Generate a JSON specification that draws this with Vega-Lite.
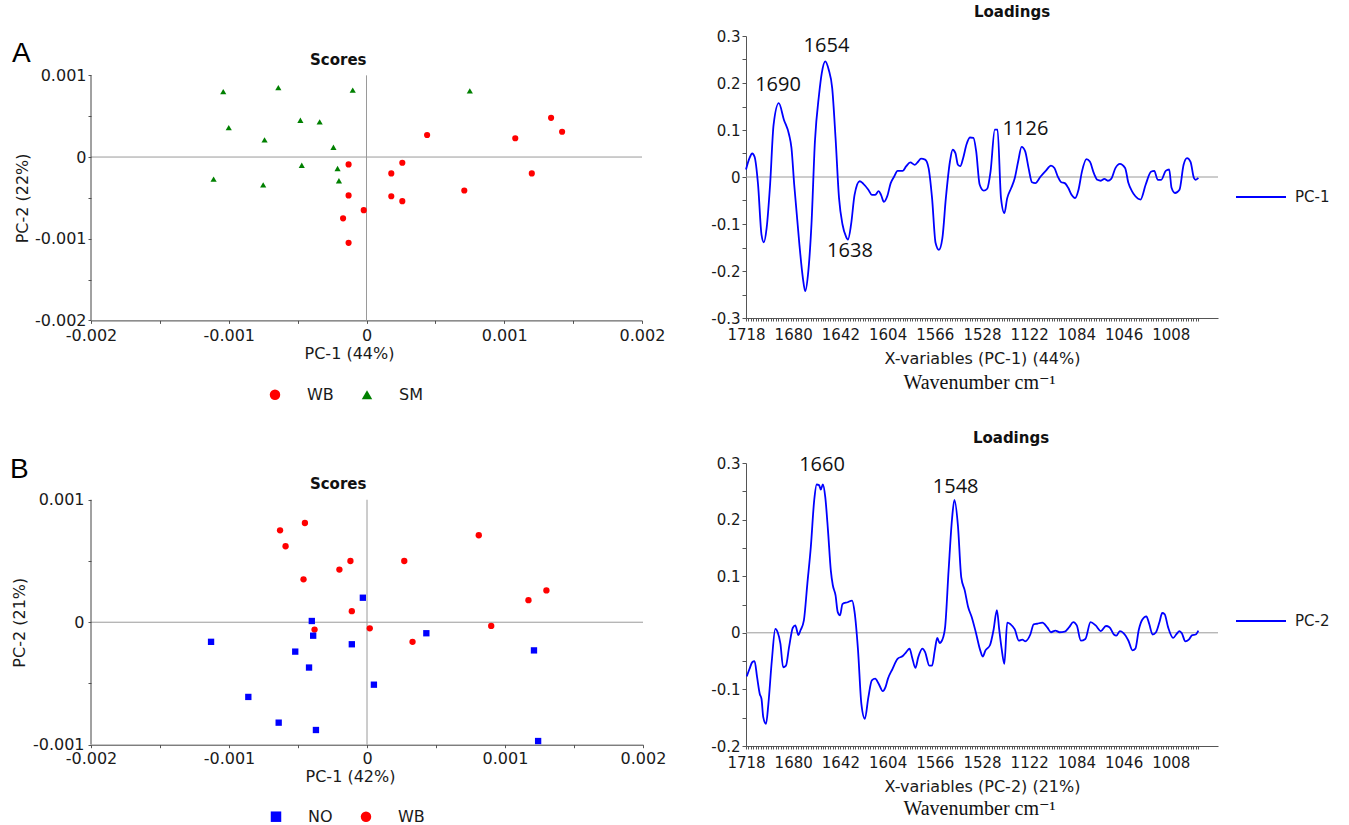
{
  "$schema": "https://vega.github.io/schema/vega-lite/v6.json",
  "background": "white",
  "padding": {"left": 9, "top": 5, "right": 0, "bottom": 0},
  "config": {
    "font": "DejaVu Sans",
    "view": {"stroke": null},
    "axis": {"labelFont": "DejaVu Sans", "titleFont": "DejaVu Sans", "titleFontWeight": "normal", "labelColor": "#1a1a1a", "titleColor": "#1a1a1a", "domainColor": "#555555", "tickColor": "#555555", "grid": false, "tickCount": 500},
    "legend": {"labelFont": "DejaVu Sans", "labelColor": "#1a1a1a"},
    "title": {"font": "DejaVu Sans", "fontWeight": "bold", "fontSize": 15, "color": "#111111", "anchor": "middle"}
  },
  "datasets": {
    "scoresA": [
      {"pc1": -0.00104, "pc2": 0.00080, "group": "SM"},
      {"pc1": -0.00064, "pc2": 0.00085, "group": "SM"},
      {"pc1": -0.00010, "pc2": 0.00082, "group": "SM"},
      {"pc1": 0.00075, "pc2": 0.00081, "group": "SM"},
      {"pc1": -0.00100, "pc2": 0.00036, "group": "SM"},
      {"pc1": -0.00048, "pc2": 0.00045, "group": "SM"},
      {"pc1": -0.00034, "pc2": 0.00043, "group": "SM"},
      {"pc1": -0.00074, "pc2": 0.00021, "group": "SM"},
      {"pc1": -0.00024, "pc2": 0.00012, "group": "SM"},
      {"pc1": -0.00047, "pc2": -0.00010, "group": "SM"},
      {"pc1": -0.00021, "pc2": -0.00014, "group": "SM"},
      {"pc1": -0.00111, "pc2": -0.00027, "group": "SM"},
      {"pc1": -0.00075, "pc2": -0.00034, "group": "SM"},
      {"pc1": -0.00020, "pc2": -0.00029, "group": "SM"},
      {"pc1": -0.00013, "pc2": -0.00009, "group": "WB"},
      {"pc1": 0.00026, "pc2": -0.00007, "group": "WB"},
      {"pc1": 0.00018, "pc2": -0.00020, "group": "WB"},
      {"pc1": 0.00044, "pc2": 0.00027, "group": "WB"},
      {"pc1": 0.00108, "pc2": 0.00023, "group": "WB"},
      {"pc1": 0.00134, "pc2": 0.00048, "group": "WB"},
      {"pc1": 0.00142, "pc2": 0.00031, "group": "WB"},
      {"pc1": 0.00120, "pc2": -0.00020, "group": "WB"},
      {"pc1": 0.00071, "pc2": -0.00041, "group": "WB"},
      {"pc1": -0.00013, "pc2": -0.00047, "group": "WB"},
      {"pc1": 0.00018, "pc2": -0.00048, "group": "WB"},
      {"pc1": 0.00026, "pc2": -0.00054, "group": "WB"},
      {"pc1": -0.00002, "pc2": -0.00065, "group": "WB"},
      {"pc1": -0.00017, "pc2": -0.00075, "group": "WB"},
      {"pc1": -0.00013, "pc2": -0.00105, "group": "WB"}
    ],
    "scoresB": [
      {"pc1": -0.00063, "pc2": 0.00075, "group": "WB"},
      {"pc1": -0.00045, "pc2": 0.00081, "group": "WB"},
      {"pc1": -0.00059, "pc2": 0.00062, "group": "WB"},
      {"pc1": 0.00081, "pc2": 0.00071, "group": "WB"},
      {"pc1": -0.00020, "pc2": 0.00043, "group": "WB"},
      {"pc1": -0.00012, "pc2": 0.00050, "group": "WB"},
      {"pc1": 0.00027, "pc2": 0.00050, "group": "WB"},
      {"pc1": -0.00046, "pc2": 0.00035, "group": "WB"},
      {"pc1": 0.00130, "pc2": 0.00026, "group": "WB"},
      {"pc1": 0.00117, "pc2": 0.00018, "group": "WB"},
      {"pc1": -0.00011, "pc2": 0.00009, "group": "WB"},
      {"pc1": -0.00038, "pc2": -0.00006, "group": "WB"},
      {"pc1": 0.00002, "pc2": -0.00005, "group": "WB"},
      {"pc1": 0.00090, "pc2": -0.00003, "group": "WB"},
      {"pc1": 0.00033, "pc2": -0.00016, "group": "WB"},
      {"pc1": -0.00003, "pc2": 0.00020, "group": "NO"},
      {"pc1": -0.00040, "pc2": 0.00001, "group": "NO"},
      {"pc1": -0.00039, "pc2": -0.00011, "group": "NO"},
      {"pc1": -0.00113, "pc2": -0.00016, "group": "NO"},
      {"pc1": -0.00011, "pc2": -0.00018, "group": "NO"},
      {"pc1": 0.00043, "pc2": -0.00009, "group": "NO"},
      {"pc1": -0.00052, "pc2": -0.00024, "group": "NO"},
      {"pc1": 0.00121, "pc2": -0.00023, "group": "NO"},
      {"pc1": -0.00042, "pc2": -0.00037, "group": "NO"},
      {"pc1": 0.00005, "pc2": -0.00051, "group": "NO"},
      {"pc1": -0.00086, "pc2": -0.00061, "group": "NO"},
      {"pc1": -0.00064, "pc2": -0.00082, "group": "NO"},
      {"pc1": -0.00037, "pc2": -0.00088, "group": "NO"},
      {"pc1": 0.00124, "pc2": -0.00097, "group": "NO"}
    ],
    "loadA": [
      {"pos": 0, "val": 0.016, "series": "PC-1"}, {"pos": 2.8, "val": 0.040, "series": "PC-1"}, {"pos": 5, "val": 0.050, "series": "PC-1"}, {"pos": 6.9, "val": 0.043, "series": "PC-1"}, {"pos": 9.7, "val": -0.016, "series": "PC-1"}, {"pos": 12.5, "val": -0.123, "series": "PC-1"}, {"pos": 14.4, "val": -0.139, "series": "PC-1"}, {"pos": 16.6, "val": -0.109, "series": "PC-1"}, {"pos": 19.4, "val": -0.016, "series": "PC-1"}, {"pos": 22.2, "val": 0.111, "series": "PC-1"}, {"pos": 26.4, "val": 0.157, "series": "PC-1"}, {"pos": 30.5, "val": 0.122, "series": "PC-1"}, {"pos": 34.7, "val": 0.090, "series": "PC-1"}, {"pos": 36.6, "val": 0.062, "series": "PC-1"}, {"pos": 38.8, "val": -0.016, "series": "PC-1"}, {"pos": 43, "val": -0.144, "series": "PC-1"}, {"pos": 45.8, "val": -0.215, "series": "PC-1"}, {"pos": 47.7, "val": -0.243, "series": "PC-1"}, {"pos": 49.9, "val": -0.208, "series": "PC-1"}, {"pos": 52.7, "val": -0.101, "series": "PC-1"}, {"pos": 55.5, "val": 0.076, "series": "PC-1"}, {"pos": 58.8, "val": 0.175, "series": "PC-1"}, {"pos": 61, "val": 0.221, "series": "PC-1"}, {"pos": 63.8, "val": 0.246, "series": "PC-1"}, {"pos": 66.6, "val": 0.228, "series": "PC-1"}, {"pos": 69.4, "val": 0.189, "series": "PC-1"}, {"pos": 72.1, "val": 0.083, "series": "PC-1"}, {"pos": 74.9, "val": -0.045, "series": "PC-1"}, {"pos": 77.7, "val": -0.101, "series": "PC-1"}, {"pos": 80.4, "val": -0.126, "series": "PC-1"}, {"pos": 82.1, "val": -0.133, "series": "PC-1"}, {"pos": 84.6, "val": -0.101, "series": "PC-1"}, {"pos": 87.4, "val": -0.038, "series": "PC-1"}, {"pos": 91.5, "val": -0.009, "series": "PC-1"}, {"pos": 94.3, "val": -0.014, "series": "PC-1"}, {"pos": 98.5, "val": -0.027, "series": "PC-1"}, {"pos": 101.3, "val": -0.038, "series": "PC-1"}, {"pos": 104, "val": -0.038, "series": "PC-1"}, {"pos": 106.8, "val": -0.030, "series": "PC-1"}, {"pos": 108.7, "val": -0.038, "series": "PC-1"}, {"pos": 111, "val": -0.053, "series": "PC-1"}, {"pos": 113.7, "val": -0.041, "series": "PC-1"}, {"pos": 116.5, "val": -0.013, "series": "PC-1"}, {"pos": 119.3, "val": 0.001, "series": "PC-1"}, {"pos": 122, "val": 0.013, "series": "PC-1"}, {"pos": 126.2, "val": 0.013, "series": "PC-1"}, {"pos": 129, "val": 0.023, "series": "PC-1"}, {"pos": 132.3, "val": 0.031, "series": "PC-1"}, {"pos": 135.9, "val": 0.026, "series": "PC-1"}, {"pos": 138.7, "val": 0.033, "series": "PC-1"}, {"pos": 140.9, "val": 0.039, "series": "PC-1"}, {"pos": 144.2, "val": 0.037, "series": "PC-1"}, {"pos": 147, "val": 0.019, "series": "PC-1"}, {"pos": 149.8, "val": -0.045, "series": "PC-1"}, {"pos": 152.6, "val": -0.140, "series": "PC-1"}, {"pos": 155.3, "val": -0.155, "series": "PC-1"}, {"pos": 158.1, "val": -0.130, "series": "PC-1"}, {"pos": 160.9, "val": -0.045, "series": "PC-1"}, {"pos": 164.2, "val": 0.033, "series": "PC-1"}, {"pos": 166.4, "val": 0.058, "series": "PC-1"}, {"pos": 168.6, "val": 0.051, "series": "PC-1"}, {"pos": 170.6, "val": 0.026, "series": "PC-1"}, {"pos": 172.5, "val": 0.023, "series": "PC-1"}, {"pos": 174.8, "val": 0.040, "series": "PC-1"}, {"pos": 177.5, "val": 0.069, "series": "PC-1"}, {"pos": 180.3, "val": 0.084, "series": "PC-1"}, {"pos": 183.1, "val": 0.083, "series": "PC-1"}, {"pos": 185.3, "val": 0.055, "series": "PC-1"}, {"pos": 188.1, "val": -0.016, "series": "PC-1"}, {"pos": 191.4, "val": -0.029, "series": "PC-1"}, {"pos": 194.2, "val": -0.025, "series": "PC-1"}, {"pos": 196.9, "val": 0.012, "series": "PC-1"}, {"pos": 200.3, "val": 0.101, "series": "PC-1"}, {"pos": 202.5, "val": 0.101, "series": "PC-1"}, {"pos": 205.3, "val": -0.045, "series": "PC-1"}, {"pos": 208, "val": -0.077, "series": "PC-1"}, {"pos": 210.3, "val": -0.045, "series": "PC-1"}, {"pos": 213.6, "val": -0.023, "series": "PC-1"}, {"pos": 216.4, "val": -0.002, "series": "PC-1"}, {"pos": 219.1, "val": 0.033, "series": "PC-1"}, {"pos": 221.9, "val": 0.064, "series": "PC-1"}, {"pos": 224.7, "val": 0.055, "series": "PC-1"}, {"pos": 227.5, "val": 0.019, "series": "PC-1"}, {"pos": 230.2, "val": -0.011, "series": "PC-1"}, {"pos": 233, "val": -0.013, "series": "PC-1"}, {"pos": 237.2, "val": 0.001, "series": "PC-1"}, {"pos": 241.3, "val": 0.013, "series": "PC-1"}, {"pos": 245.5, "val": 0.024, "series": "PC-1"}, {"pos": 248.3, "val": 0.019, "series": "PC-1"}, {"pos": 251, "val": 0.001, "series": "PC-1"}, {"pos": 253.8, "val": -0.011, "series": "PC-1"}, {"pos": 256.6, "val": -0.013, "series": "PC-1"}, {"pos": 259.4, "val": -0.023, "series": "PC-1"}, {"pos": 262.1, "val": -0.038, "series": "PC-1"}, {"pos": 264.9, "val": -0.045, "series": "PC-1"}, {"pos": 267.7, "val": -0.027, "series": "PC-1"}, {"pos": 270.5, "val": 0.012, "series": "PC-1"}, {"pos": 274.1, "val": 0.038, "series": "PC-1"}, {"pos": 276.8, "val": 0.033, "series": "PC-1"}, {"pos": 280.2, "val": 0.007, "series": "PC-1"}, {"pos": 282.9, "val": -0.006, "series": "PC-1"}, {"pos": 285.7, "val": -0.008, "series": "PC-1"}, {"pos": 288.5, "val": -0.004, "series": "PC-1"}, {"pos": 291.3, "val": -0.008, "series": "PC-1"}, {"pos": 294, "val": -0.004, "series": "PC-1"}, {"pos": 297.4, "val": 0.019, "series": "PC-1"}, {"pos": 301, "val": 0.028, "series": "PC-1"}, {"pos": 305.2, "val": 0.019, "series": "PC-1"}, {"pos": 307.9, "val": -0.013, "series": "PC-1"}, {"pos": 310.7, "val": -0.030, "series": "PC-1"}, {"pos": 313.5, "val": -0.041, "series": "PC-1"}, {"pos": 317.6, "val": -0.048, "series": "PC-1"}, {"pos": 321.8, "val": -0.016, "series": "PC-1"}, {"pos": 326, "val": 0.011, "series": "PC-1"}, {"pos": 328.7, "val": 0.013, "series": "PC-1"}, {"pos": 331.5, "val": -0.006, "series": "PC-1"}, {"pos": 334.3, "val": -0.006, "series": "PC-1"}, {"pos": 337.9, "val": 0.013, "series": "PC-1"}, {"pos": 340.7, "val": 0.016, "series": "PC-1"}, {"pos": 342.6, "val": -0.023, "series": "PC-1"}, {"pos": 345.4, "val": -0.034, "series": "PC-1"}, {"pos": 349, "val": -0.027, "series": "PC-1"}, {"pos": 352.3, "val": 0.026, "series": "PC-1"}, {"pos": 355.1, "val": 0.040, "series": "PC-1"}, {"pos": 357.9, "val": 0.032, "series": "PC-1"}, {"pos": 360.6, "val": -0.002, "series": "PC-1"}, {"pos": 362, "val": -0.006, "series": "PC-1"}, {"pos": 364.2, "val": -0.002, "series": "PC-1"}
    ],
    "loadB": [
      {"pos": 0.6, "val": -0.077, "series": "PC-2"}, {"pos": 2.8, "val": -0.064, "series": "PC-2"}, {"pos": 5, "val": -0.052, "series": "PC-2"}, {"pos": 6.9, "val": -0.050, "series": "PC-2"}, {"pos": 8.9, "val": -0.078, "series": "PC-2"}, {"pos": 11.1, "val": -0.108, "series": "PC-2"}, {"pos": 12.5, "val": -0.117, "series": "PC-2"}, {"pos": 13.9, "val": -0.149, "series": "PC-2"}, {"pos": 16.1, "val": -0.161, "series": "PC-2"}, {"pos": 18, "val": -0.126, "series": "PC-2"}, {"pos": 20.8, "val": -0.049, "series": "PC-2"}, {"pos": 23.6, "val": 0.007, "series": "PC-2"}, {"pos": 25.5, "val": 0.001, "series": "PC-2"}, {"pos": 27.7, "val": -0.019, "series": "PC-2"}, {"pos": 29.9, "val": -0.061, "series": "PC-2"}, {"pos": 32.2, "val": -0.058, "series": "PC-2"}, {"pos": 34.7, "val": -0.025, "series": "PC-2"}, {"pos": 37.7, "val": 0.009, "series": "PC-2"}, {"pos": 39.7, "val": 0.013, "series": "PC-2"}, {"pos": 42.2, "val": -0.004, "series": "PC-2"}, {"pos": 43.8, "val": 0.004, "series": "PC-2"}, {"pos": 46.6, "val": 0.022, "series": "PC-2"}, {"pos": 49.4, "val": 0.087, "series": "PC-2"}, {"pos": 52.2, "val": 0.152, "series": "PC-2"}, {"pos": 54.9, "val": 0.234, "series": "PC-2"}, {"pos": 56.9, "val": 0.262, "series": "PC-2"}, {"pos": 58.8, "val": 0.261, "series": "PC-2"}, {"pos": 60.2, "val": 0.253, "series": "PC-2"}, {"pos": 61.9, "val": 0.262, "series": "PC-2"}, {"pos": 63.8, "val": 0.240, "series": "PC-2"}, {"pos": 66, "val": 0.181, "series": "PC-2"}, {"pos": 68.3, "val": 0.110, "series": "PC-2"}, {"pos": 69.9, "val": 0.084, "series": "PC-2"}, {"pos": 72.1, "val": 0.066, "series": "PC-2"}, {"pos": 73.8, "val": 0.037, "series": "PC-2"}, {"pos": 75.7, "val": 0.031, "series": "PC-2"}, {"pos": 77.7, "val": 0.051, "series": "PC-2"}, {"pos": 81.8, "val": 0.054, "series": "PC-2"}, {"pos": 85.4, "val": 0.057, "series": "PC-2"}, {"pos": 87.4, "val": 0.037, "series": "PC-2"}, {"pos": 90.2, "val": -0.031, "series": "PC-2"}, {"pos": 92.9, "val": -0.126, "series": "PC-2"}, {"pos": 95.7, "val": -0.152, "series": "PC-2"}, {"pos": 98.5, "val": -0.114, "series": "PC-2"}, {"pos": 101.3, "val": -0.084, "series": "PC-2"}, {"pos": 104, "val": -0.081, "series": "PC-2"}, {"pos": 106.8, "val": -0.090, "series": "PC-2"}, {"pos": 110.1, "val": -0.103, "series": "PC-2"}, {"pos": 112.3, "val": -0.096, "series": "PC-2"}, {"pos": 114.3, "val": -0.081, "series": "PC-2"}, {"pos": 117.9, "val": -0.064, "series": "PC-2"}, {"pos": 122, "val": -0.046, "series": "PC-2"}, {"pos": 126.2, "val": -0.041, "series": "PC-2"}, {"pos": 129, "val": -0.034, "series": "PC-2"}, {"pos": 131.7, "val": -0.028, "series": "PC-2"}, {"pos": 133.7, "val": -0.043, "series": "PC-2"}, {"pos": 136.4, "val": -0.062, "series": "PC-2"}, {"pos": 138.7, "val": -0.043, "series": "PC-2"}, {"pos": 142, "val": -0.028, "series": "PC-2"}, {"pos": 144.2, "val": -0.034, "series": "PC-2"}, {"pos": 147.6, "val": -0.058, "series": "PC-2"}, {"pos": 149.8, "val": -0.058, "series": "PC-2"}, {"pos": 152, "val": -0.031, "series": "PC-2"}, {"pos": 154, "val": -0.009, "series": "PC-2"}, {"pos": 155.9, "val": -0.018, "series": "PC-2"}, {"pos": 158.1, "val": -0.012, "series": "PC-2"}, {"pos": 160.3, "val": 0.010, "series": "PC-2"}, {"pos": 163.1, "val": 0.110, "series": "PC-2"}, {"pos": 165.9, "val": 0.202, "series": "PC-2"}, {"pos": 167.8, "val": 0.235, "series": "PC-2"}, {"pos": 170.6, "val": 0.190, "series": "PC-2"}, {"pos": 173.3, "val": 0.098, "series": "PC-2"}, {"pos": 176.1, "val": 0.075, "series": "PC-2"}, {"pos": 178.9, "val": 0.045, "series": "PC-2"}, {"pos": 181.7, "val": 0.028, "series": "PC-2"}, {"pos": 185, "val": 0.001, "series": "PC-2"}, {"pos": 188.6, "val": -0.031, "series": "PC-2"}, {"pos": 190.6, "val": -0.042, "series": "PC-2"}, {"pos": 192.8, "val": -0.031, "series": "PC-2"}, {"pos": 196.4, "val": -0.022, "series": "PC-2"}, {"pos": 199.2, "val": 0.004, "series": "PC-2"}, {"pos": 202, "val": 0.040, "series": "PC-2"}, {"pos": 203.9, "val": 0.005, "series": "PC-2"}, {"pos": 205.8, "val": -0.028, "series": "PC-2"}, {"pos": 208, "val": -0.055, "series": "PC-2"}, {"pos": 210.3, "val": 0.018, "series": "PC-2"}, {"pos": 213, "val": 0.015, "series": "PC-2"}, {"pos": 216.4, "val": 0.006, "series": "PC-2"}, {"pos": 219.7, "val": -0.014, "series": "PC-2"}, {"pos": 222.5, "val": -0.012, "series": "PC-2"}, {"pos": 224.7, "val": -0.015, "series": "PC-2"}, {"pos": 228.9, "val": -0.003, "series": "PC-2"}, {"pos": 231.6, "val": 0.015, "series": "PC-2"}, {"pos": 234.4, "val": 0.016, "series": "PC-2"}, {"pos": 238.6, "val": 0.018, "series": "PC-2"}, {"pos": 242.7, "val": 0.009, "series": "PC-2"}, {"pos": 245.5, "val": 0.001, "series": "PC-2"}, {"pos": 249.1, "val": 0.004, "series": "PC-2"}, {"pos": 252.4, "val": 0.001, "series": "PC-2"}, {"pos": 256.6, "val": 0.002, "series": "PC-2"}, {"pos": 260.2, "val": 0.010, "series": "PC-2"}, {"pos": 263.5, "val": 0.019, "series": "PC-2"}, {"pos": 266.3, "val": 0.013, "series": "PC-2"}, {"pos": 269.6, "val": -0.014, "series": "PC-2"}, {"pos": 273.2, "val": -0.011, "series": "PC-2"}, {"pos": 277.4, "val": 0.019, "series": "PC-2"}, {"pos": 281.5, "val": 0.013, "series": "PC-2"}, {"pos": 285.7, "val": 0.003, "series": "PC-2"}, {"pos": 289.8, "val": 0.012, "series": "PC-2"}, {"pos": 292.6, "val": 0.010, "series": "PC-2"}, {"pos": 296.2, "val": -0.003, "series": "PC-2"}, {"pos": 298.2, "val": -0.005, "series": "PC-2"}, {"pos": 301, "val": 0.003, "series": "PC-2"}, {"pos": 303.7, "val": 0.000, "series": "PC-2"}, {"pos": 307.9, "val": -0.014, "series": "PC-2"}, {"pos": 311.2, "val": -0.031, "series": "PC-2"}, {"pos": 313.5, "val": -0.028, "series": "PC-2"}, {"pos": 316.2, "val": 0.005, "series": "PC-2"}, {"pos": 319, "val": 0.023, "series": "PC-2"}, {"pos": 322.3, "val": 0.029, "series": "PC-2"}, {"pos": 324.6, "val": 0.016, "series": "PC-2"}, {"pos": 327.3, "val": -0.003, "series": "PC-2"}, {"pos": 330.1, "val": 0.001, "series": "PC-2"}, {"pos": 332.9, "val": 0.019, "series": "PC-2"}, {"pos": 335.1, "val": 0.035, "series": "PC-2"}, {"pos": 337, "val": 0.033, "series": "PC-2"}, {"pos": 339.8, "val": 0.010, "series": "PC-2"}, {"pos": 343.9, "val": -0.009, "series": "PC-2"}, {"pos": 346.7, "val": -0.002, "series": "PC-2"}, {"pos": 349, "val": 0.003, "series": "PC-2"}, {"pos": 350.9, "val": -0.001, "series": "PC-2"}, {"pos": 353.7, "val": -0.015, "series": "PC-2"}, {"pos": 356.5, "val": -0.012, "series": "PC-2"}, {"pos": 359.3, "val": -0.004, "series": "PC-2"}, {"pos": 362, "val": -0.003, "series": "PC-2"}, {"pos": 364.2, "val": 0.004, "series": "PC-2"}
    ],
    "annotA": [
      {"pos": 25.8, "val": 0.184, "label": "1690"},
      {"pos": 64.8, "val": 0.265, "label": "1654"},
      {"pos": 83.7, "val": -0.171, "label": "1638"},
      {"pos": 225, "val": 0.089, "label": "1126"}
    ],
    "annotB": [
      {"pos": 61.2, "val": 0.2855, "label": "1660"},
      {"pos": 168.8, "val": 0.247, "label": "1548"}
    ],
    "blank": [{}]
  },
  "spacing": 28,
  "resolve": {"scale": {"color": "independent", "shape": "independent"}, "legend": {"color": "independent", "shape": "independent"}},
  "vconcat": [
    {
      "spacing": 45,
      "resolve": {"scale": {"color": "independent", "shape": "independent"}, "legend": {"color": "independent", "shape": "independent"}},
      "hconcat": [
        {
          "width": 551, "height": 284.4,
          "layer": [
            {"data": {"name": "blank"}, "mark": {"type": "rule", "color": "#9a9a9a", "strokeWidth": 1},
             "encoding": {"y": {"datum": 0, "type": "quantitative", "title": "PC-2 (22%)", "scale": {"domain": [-0.002, 0.001482], "nice": false, "zero": false}}}},
            {"data": {"name": "blank"}, "mark": {"type": "rule", "color": "#9a9a9a", "strokeWidth": 1},
             "encoding": {"x": {"datum": 0, "type": "quantitative", "title": "PC-1 (44%)", "scale": {"domain": [-0.002, 0.002], "nice": false, "zero": false}},
                          "y": {"datum": -0.002, "type": "quantitative", "title": "PC-2 (22%)", "scale": {"domain": [-0.002, 0.001482], "nice": false, "zero": false}},
                          "y2": {"datum": 0.001}}},
            {"data": {"name": "blank"}, "mark": {"type": "rule", "color": "#444444", "strokeWidth": 1},
             "encoding": {"x": {"datum": -0.002, "type": "quantitative", "title": "PC-1 (44%)", "scale": {"domain": [-0.002, 0.002], "nice": false, "zero": false}},
                          "y": {"datum": -0.002, "type": "quantitative", "title": "PC-2 (22%)", "scale": {"domain": [-0.002, 0.001482], "nice": false, "zero": false}},
                          "y2": {"datum": 0.001}}},
            {"data": {"name": "scoresA"}, "mark": {"type": "point", "filled": true, "opacity": 1, "size": 38},
             "encoding": {
               "x": {"field": "pc1", "type": "quantitative", "title": "PC-1 (44%)", "scale": {"domain": [-0.002, 0.002], "nice": false, "zero": false},
                     "axis": {"values": [-0.002, -0.0015, -0.001, -0.0005, 0, 0.0005, 0.001, 0.0015, 0.002], "labelExpr": "abs(round(datum.value*10000)) % 10 != 0 ? '' : (datum.value == 0 ? '0' : (datum.value < 0 ? '-' : '') + format(abs(datum.value), '.3f'))", "labelFlush": false, "labelOverlap": false, "tickSize": 3, "labelPadding": 4, "labelFontSize": 16, "titleFontSize": 16, "titlePadding": 2, "titleX": 258, "domainColor": "#444444"}},
               "y": {"field": "pc2", "type": "quantitative", "title": "PC-2 (22%)", "scale": {"domain": [-0.002, 0.001482], "nice": false, "zero": false},
                     "axis": {"values": [-0.002, -0.0015, -0.001, -0.0005, 0, 0.0005, 0.001], "domain": false, "labelExpr": "abs(round(datum.value*10000)) % 10 != 0 ? '' : (datum.value == 0 ? '0' : (datum.value < 0 ? '-' : '') + format(abs(datum.value), '.3f'))", "labelFlush": false, "labelOverlap": false, "tickSize": 3, "labelPadding": 2, "labelFontSize": 16, "titleFontSize": 16, "titlePadding": 4, "titleY": 161.9}},
               "color": {"field": "group", "type": "nominal", "scale": {"domain": ["WB", "SM"], "range": ["#ff0000", "#008000"]},
                         "legend": {"title": null, "orient": "none", "legendX": 176, "legendY": 350.7, "direction": "horizontal", "symbolSize": 110, "labelFontSize": 16, "labelOffset": 24, "columnPadding": 25, "symbolStrokeWidth": 0}},
               "shape": {"field": "group", "type": "nominal", "scale": {"domain": ["WB", "SM"], "range": ["circle", "triangle-up"]},
                         "legend": {"title": null, "orient": "none", "legendX": 176, "legendY": 350.7, "direction": "horizontal", "symbolSize": 110, "labelFontSize": 16, "labelOffset": 24, "columnPadding": 25, "symbolStrokeWidth": 0}}
             }},
            {"data": {"name": "blank"}, "mark": {"type": "text", "text": "Scores", "font": "DejaVu Sans", "fontWeight": "bold", "fontSize": 15, "align": "center", "baseline": "alphabetic", "color": "#111111"},
             "encoding": {"x": {"datum": -0.000205, "type": "quantitative", "title": "PC-1 (44%)", "scale": {"domain": [-0.002, 0.002], "nice": false, "zero": false}},
                          "y": {"datum": 0.001131, "type": "quantitative", "title": "PC-2 (22%)", "scale": {"domain": [-0.002, 0.001482], "nice": false, "zero": false}}}},
            {"data": {"name": "blank"}, "mark": {"type": "text", "text": "A", "font": "Liberation Sans", "fontSize": 28, "align": "left", "baseline": "alphabetic", "color": "#000000"},
             "encoding": {"x": {"datum": -0.002574, "type": "quantitative", "title": "PC-1 (44%)", "scale": {"domain": [-0.002, 0.002], "nice": false, "zero": false}},
                          "y": {"datum": 0.001168, "type": "quantitative", "title": "PC-2 (22%)", "scale": {"domain": [-0.002, 0.001482], "nice": false, "zero": false}}}}
          ]
        },
        {
          "width": 472, "height": 282,
          "title": {"text": "Loadings", "offset": 9, "dx": 30, "frame": "group"},
          "layer": [
            {"data": {"name": "blank"}, "mark": {"type": "rule", "color": "#9a9a9a", "strokeWidth": 1},
             "encoding": {"y": {"datum": 0, "type": "quantitative", "title": null, "scale": {"domain": [-0.3, 0.3], "nice": false, "zero": false}}}},
            {"data": {"name": "loadA"}, "mark": {"type": "line", "strokeWidth": 1.8, "interpolate": "monotone"},
             "encoding": {
               "x": {"field": "pos", "type": "quantitative", "title": "X-variables (PC-1) (44%)", "scale": {"domain": [0, 380], "nice": false, "zero": false},
                     "axis": {"values": [0,2,4,6,8,10,12,14,16,18,20,22,24,26,28,30,32,34,36,38,40,42,44,46,48,50,52,54,56,58,60,62,64,66,68,70,72,74,76,78,80,82,84,86,88,90,92,94,96,98,100,102,104,106,108,110,112,114,116,118,120,122,124,126,128,130,132,134,136,138,140,142,144,146,148,150,152,154,156,158,160,162,164,166,168,170,172,174,176,178,180,182,184,186,188,190,192,194,196,198,200,202,204,206,208,210,212,214,216,218,220,222,224,226,228,230,232,234,236,238,240,242,244,246,248,250,252,254,256,258,260,262,264,266,268,270,272,274,276,278,280,282,284,286,288,290,292,294,296,298,300,302,304,306,308,310,312,314,316,318,320,322,324,326,328,330,332,334,336,338,340,342,344,346,348,350,352,354,356,358,360,362,364],
                              "tickCount": 500, "labelExpr": "datum.value % 38 != 0 ? '' : '' + (datum.value <= 190 ? 1718 - datum.value : 1350 - datum.value)", "labelFlush": false, "labelOverlap": false, "tickSize": 3, "labelPadding": 6, "labelFontSize": 15, "titleFontSize": 16, "titlePadding": 8}},
               "y": {"field": "val", "type": "quantitative", "title": null, "scale": {"domain": [-0.3, 0.3], "nice": false, "zero": false},
                     "axis": {"values": [-0.3, -0.25, -0.2, -0.15, -0.1, -0.05, 0, 0.05, 0.1, 0.15, 0.2, 0.25, 0.3], "tickCount": 500, "labelExpr": "abs(round(datum.value*100)) % 10 != 0 ? '' : (datum.value == 0 ? '0' : (datum.value < 0 ? '-' : '') + format(abs(datum.value), '.1f'))", "labelFlush": false, "labelOverlap": false, "tickSize": 4, "labelPadding": 2, "labelFontSize": 15}},
               "color": {"field": "series", "type": "nominal", "scale": {"domain": ["PC-1"], "range": ["#0000ff"]},
                         "legend": {"title": null, "orient": "none", "legendX": 489, "legendY": 135, "symbolType": "stroke", "symbolSize": 2500, "symbolStrokeWidth": 2, "labelFontSize": 15, "labelOffset": 8}}
             }},
            {"data": {"name": "annotA"}, "mark": {"type": "text", "font": "Open Sans", "fontSize": 20, "align": "center", "baseline": "alphabetic", "color": "#111111"},
             "encoding": {"x": {"field": "pos", "type": "quantitative", "title": "X-variables (PC-1) (44%)", "scale": {"domain": [0, 380], "nice": false, "zero": false}},
                          "y": {"field": "val", "type": "quantitative", "title": null, "scale": {"domain": [-0.3, 0.3], "nice": false, "zero": false}},
                          "text": {"field": "label", "type": "nominal"}}},
            {"data": {"name": "blank"}, "mark": {"type": "text", "text": "Wavenumber cm⁻¹", "font": "Liberation Serif, DejaVu Serif", "fontSize": 20, "align": "center", "baseline": "alphabetic", "color": "#111111"},
             "encoding": {"x": {"datum": 188, "type": "quantitative", "title": "X-variables (PC-1) (44%)", "scale": {"domain": [0, 380], "nice": false, "zero": false}},
                          "y": {"datum": -0.4512, "type": "quantitative", "title": null, "scale": {"domain": [-0.3, 0.3], "nice": false, "zero": false}}}}
          ]
        }
      ]
    },
    {
      "spacing": 44,
      "resolve": {"scale": {"color": "independent", "shape": "independent"}, "legend": {"color": "independent", "shape": "independent"}},
      "hconcat": [
        {
          "width": 552, "height": 281.7,
          "layer": [
            {"data": {"name": "blank"}, "mark": {"type": "rule", "color": "#9a9a9a", "strokeWidth": 1},
             "encoding": {"y": {"datum": 0, "type": "quantitative", "title": "PC-2 (21%)", "scale": {"domain": [-0.001, 0.0013], "nice": false, "zero": false}}}},
            {"data": {"name": "blank"}, "mark": {"type": "rule", "color": "#9a9a9a", "strokeWidth": 1},
             "encoding": {"x": {"datum": 0, "type": "quantitative", "title": "PC-1 (42%)", "scale": {"domain": [-0.002, 0.002], "nice": false, "zero": false}},
                          "y": {"datum": -0.001, "type": "quantitative", "title": "PC-2 (21%)", "scale": {"domain": [-0.001, 0.0013], "nice": false, "zero": false}},
                          "y2": {"datum": 0.001}}},
            {"data": {"name": "blank"}, "mark": {"type": "rule", "color": "#444444", "strokeWidth": 1},
             "encoding": {"x": {"datum": -0.002, "type": "quantitative", "title": "PC-1 (42%)", "scale": {"domain": [-0.002, 0.002], "nice": false, "zero": false}},
                          "y": {"datum": -0.001, "type": "quantitative", "title": "PC-2 (21%)", "scale": {"domain": [-0.001, 0.0013], "nice": false, "zero": false}},
                          "y2": {"datum": 0.001}}},
            {"data": {"name": "scoresB"}, "mark": {"type": "point", "filled": true, "opacity": 1, "size": 40},
             "encoding": {
               "x": {"field": "pc1", "type": "quantitative", "title": "PC-1 (42%)", "scale": {"domain": [-0.002, 0.002], "nice": false, "zero": false},
                     "axis": {"values": [-0.002, -0.0015, -0.001, -0.0005, 0, 0.0005, 0.001, 0.0015, 0.002], "labelExpr": "abs(round(datum.value*10000)) % 10 != 0 ? '' : (datum.value == 0 ? '0' : (datum.value < 0 ? '-' : '') + format(abs(datum.value), '.3f'))", "labelFlush": false, "labelOverlap": false, "tickSize": 3, "labelPadding": 3, "labelFontSize": 16, "titleFontSize": 16, "titlePadding": 2, "titleX": 259, "domainColor": "#444444"}},
               "y": {"field": "pc2", "type": "quantitative", "title": "PC-2 (21%)", "scale": {"domain": [-0.001, 0.0013], "nice": false, "zero": false},
                     "axis": {"values": [-0.001, -0.0005, 0, 0.0005, 0.001], "domain": false, "labelExpr": "abs(round(datum.value*10000)) % 10 != 0 ? '' : (datum.value == 0 ? '0' : (datum.value < 0 ? '-' : '') + format(abs(datum.value), '.3f'))", "labelFlush": false, "labelOverlap": false, "tickSize": 3, "labelPadding": 4, "labelFontSize": 16, "titleFontSize": 16, "titlePadding": 5, "titleY": 159.2}},
               "color": {"field": "group", "type": "nominal", "scale": {"domain": ["NO", "WB"], "range": ["#0000ff", "#ff0000"]},
                         "legend": {"title": null, "orient": "none", "legendX": 177, "legendY": 345.7, "direction": "horizontal", "symbolSize": 110, "labelFontSize": 16, "labelOffset": 24, "columnPadding": 25, "symbolStrokeWidth": 0}},
               "shape": {"field": "group", "type": "nominal", "scale": {"domain": ["NO", "WB"], "range": ["square", "circle"]},
                         "legend": {"title": null, "orient": "none", "legendX": 177, "legendY": 345.7, "direction": "horizontal", "symbolSize": 110, "labelFontSize": 16, "labelOffset": 24, "columnPadding": 25, "symbolStrokeWidth": 0}}
             }},
            {"data": {"name": "blank"}, "mark": {"type": "text", "text": "Scores", "font": "DejaVu Sans", "fontWeight": "bold", "fontSize": 15, "align": "center", "baseline": "alphabetic", "color": "#111111"},
             "encoding": {"x": {"datum": -0.000209, "type": "quantitative", "title": "PC-1 (42%)", "scale": {"domain": [-0.002, 0.002], "nice": false, "zero": false}},
                          "y": {"datum": 0.001087, "type": "quantitative", "title": "PC-2 (21%)", "scale": {"domain": [-0.001, 0.0013], "nice": false, "zero": false}}}},
            {"data": {"name": "blank"}, "mark": {"type": "text", "text": "B", "font": "Liberation Sans", "fontSize": 28, "align": "left", "baseline": "alphabetic", "color": "#000000"},
             "encoding": {"x": {"datum": -0.002587, "type": "quantitative", "title": "PC-1 (42%)", "scale": {"domain": [-0.002, 0.002], "nice": false, "zero": false}},
                          "y": {"datum": 0.00118, "type": "quantitative", "title": "PC-2 (21%)", "scale": {"domain": [-0.001, 0.0013], "nice": false, "zero": false}}}}
          ]
        },
        {
          "width": 472, "height": 283,
          "title": {"text": "Loadings", "offset": 9, "dx": 29, "frame": "group"},
          "layer": [
            {"data": {"name": "blank"}, "mark": {"type": "rule", "color": "#9a9a9a", "strokeWidth": 1},
             "encoding": {"y": {"datum": 0, "type": "quantitative", "title": null, "scale": {"domain": [-0.2, 0.3], "nice": false, "zero": false}}}},
            {"data": {"name": "loadB"}, "mark": {"type": "line", "strokeWidth": 1.8, "interpolate": "monotone"},
             "encoding": {
               "x": {"field": "pos", "type": "quantitative", "title": "X-variables (PC-2) (21%)", "scale": {"domain": [0, 380], "nice": false, "zero": false},
                     "axis": {"values": [0,2,4,6,8,10,12,14,16,18,20,22,24,26,28,30,32,34,36,38,40,42,44,46,48,50,52,54,56,58,60,62,64,66,68,70,72,74,76,78,80,82,84,86,88,90,92,94,96,98,100,102,104,106,108,110,112,114,116,118,120,122,124,126,128,130,132,134,136,138,140,142,144,146,148,150,152,154,156,158,160,162,164,166,168,170,172,174,176,178,180,182,184,186,188,190,192,194,196,198,200,202,204,206,208,210,212,214,216,218,220,222,224,226,228,230,232,234,236,238,240,242,244,246,248,250,252,254,256,258,260,262,264,266,268,270,272,274,276,278,280,282,284,286,288,290,292,294,296,298,300,302,304,306,308,310,312,314,316,318,320,322,324,326,328,330,332,334,336,338,340,342,344,346,348,350,352,354,356,358,360,362,364],
                              "tickCount": 500, "labelExpr": "datum.value % 38 != 0 ? '' : '' + (datum.value <= 190 ? 1718 - datum.value : 1350 - datum.value)", "labelFlush": false, "labelOverlap": false, "tickSize": 3, "labelPadding": 6, "labelFontSize": 15, "titleFontSize": 16, "titlePadding": 8}},
               "y": {"field": "val", "type": "quantitative", "title": null, "scale": {"domain": [-0.2, 0.3], "nice": false, "zero": false},
                     "axis": {"values": [-0.2, -0.15, -0.1, -0.05, 0, 0.05, 0.1, 0.15, 0.2, 0.25, 0.3], "tickCount": 500, "labelExpr": "abs(round(datum.value*100)) % 10 != 0 ? '' : (datum.value == 0 ? '0' : (datum.value < 0 ? '-' : '') + format(abs(datum.value), '.1f'))", "labelFlush": false, "labelOverlap": false, "tickSize": 4, "labelPadding": 2, "labelFontSize": 15}},
               "color": {"field": "series", "type": "nominal", "scale": {"domain": ["PC-2"], "range": ["#0000ff"]},
                         "legend": {"title": null, "orient": "none", "legendX": 489, "legendY": 132, "symbolType": "stroke", "symbolSize": 2500, "symbolStrokeWidth": 2, "labelFontSize": 15, "labelOffset": 8}}
             }},
            {"data": {"name": "annotB"}, "mark": {"type": "text", "font": "Open Sans", "fontSize": 20, "align": "center", "baseline": "alphabetic", "color": "#111111"},
             "encoding": {"x": {"field": "pos", "type": "quantitative", "title": "X-variables (PC-2) (21%)", "scale": {"domain": [0, 380], "nice": false, "zero": false}},
                          "y": {"field": "val", "type": "quantitative", "title": null, "scale": {"domain": [-0.2, 0.3], "nice": false, "zero": false}},
                          "text": {"field": "label", "type": "nominal"}}},
            {"data": {"name": "blank"}, "mark": {"type": "text", "text": "Wavenumber cm⁻¹", "font": "Liberation Serif, DejaVu Serif", "fontSize": 20, "align": "center", "baseline": "alphabetic", "color": "#111111"},
             "encoding": {"x": {"datum": 188, "type": "quantitative", "title": "X-variables (PC-2) (21%)", "scale": {"domain": [0, 380], "nice": false, "zero": false}},
                          "y": {"datum": -0.322, "type": "quantitative", "title": null, "scale": {"domain": [-0.2, 0.3], "nice": false, "zero": false}}}}
          ]
        }
      ]
    }
  ]
}
